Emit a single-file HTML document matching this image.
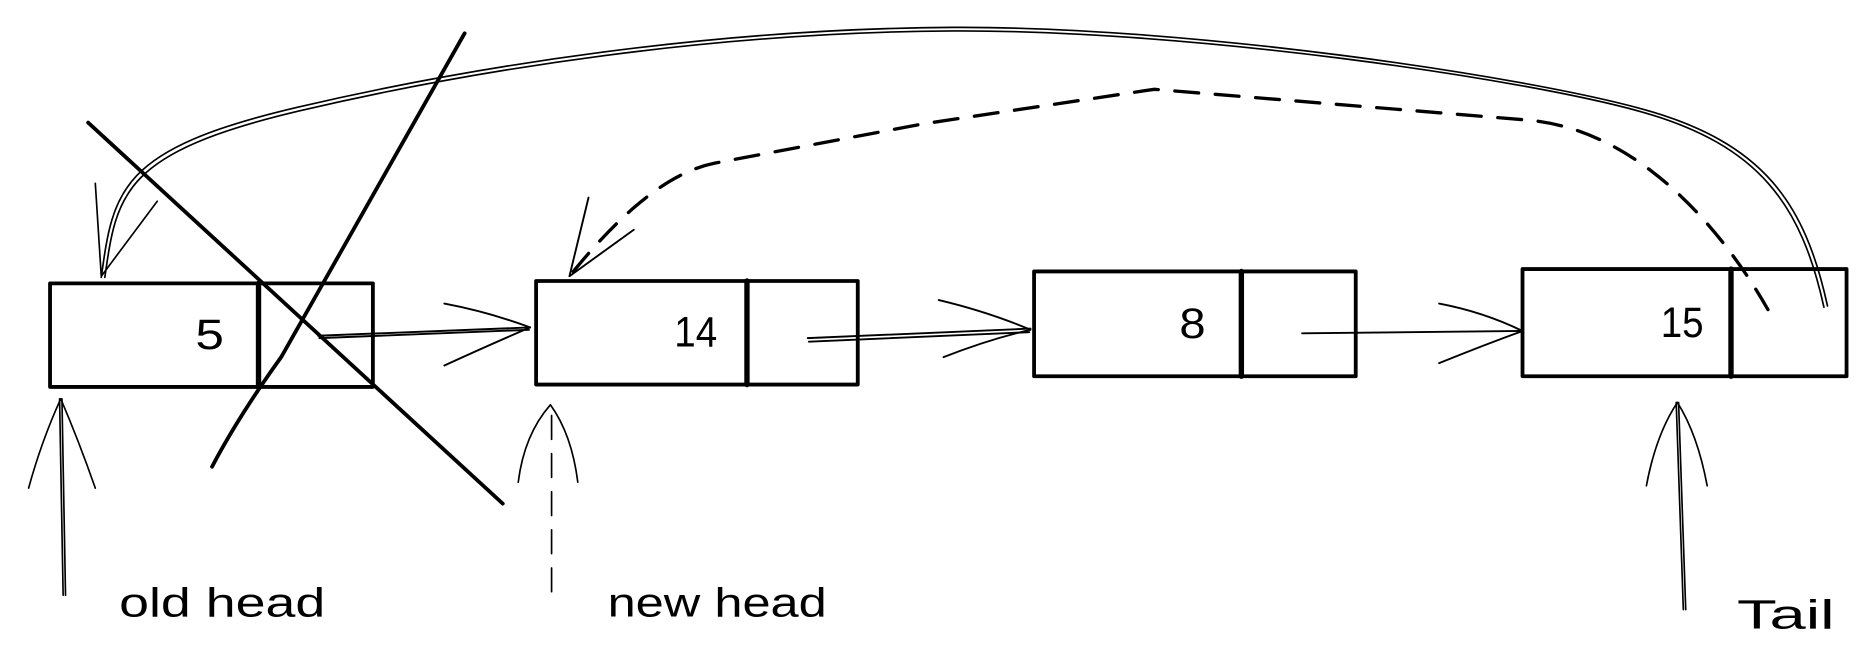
<!DOCTYPE html>
<html><head><meta charset="utf-8"><style>
html,body{margin:0;padding:0;background:#fff;}
svg{display:block;}
text{font-family:"Liberation Sans",sans-serif;fill:#000;}
</style></head><body>
<svg width="1868" height="656" viewBox="0 0 1568 551" preserveAspectRatio="none" xmlns="http://www.w3.org/2000/svg">
<g fill="none" stroke="#000" stroke-linecap="round" stroke-linejoin="round">
<g stroke-width="3.2">
<rect x="42" y="238" width="271" height="87"/>
<line x1="217" y1="238" x2="217" y2="325" stroke-width="4.5"/>
<rect x="450" y="236" width="270" height="87"/>
<line x1="627" y1="236" x2="627" y2="323" stroke-width="4.5"/>
<rect x="868" y="228" width="270" height="88"/>
<line x1="1042" y1="228" x2="1042" y2="316" stroke-width="4.5"/>
<rect x="1278" y="226" width="272" height="90"/>
<line x1="1453" y1="226" x2="1453" y2="316" stroke-width="4.5"/>
</g>
<g stroke-width="1.6">
<path d="M267 282 L445 275 M268 284 L444 277"/>
<path d="M373 255 Q410 262 445 275 M373 307 Q410 290 445 275"/>
<path d="M678 284 L865 276 M679 287 L864 279"/>
<path d="M788 252 Q830 262 865 277 M792 300 Q830 285 865 277"/>
<path d="M1093 280 L1278 278"/>
<path d="M1208 255 Q1245 262 1278 278 M1208 305 Q1245 290 1278 278"/>
</g>
<g stroke-width="1.4">
<path d="M1534 257 C1515 170 1480 120 1380 92 S 1000 22 800 23 S 400 55 250 90 S 95 160 85 233"/>
<path d="M1531 258 C1512 172 1477 122 1378 94 S 1000 25 800 26 S 401 58 252 93 S 98 162 88 233"/>
<path d="M80 154 L85 232 L132 169"/>
</g>
<path d="M1484 260 C1450 200 1380 110 1284 101 L969 75 L775 104 L600 137 C560 145 520 180 478 232" stroke-width="2.8" stroke-dasharray="20 14"/>
<path d="M494 166 L478 232 L532 193" stroke-width="1.6"/>
<line x1="74" y1="103" x2="422" y2="423" stroke-width="3.2"/>
<path d="M390 28 L236 300 Q200 350 178 392" stroke-width="3.2"/>
<g stroke-width="1.4">
<path d="M53 500 L50 335 M55 500 L52 335"/>
<path d="M24 410 Q35 370 51 335 M80 410 Q66 370 51 335"/>
<path d="M463 497 L463 340" stroke-dasharray="20 12"/>
<path d="M435 405 Q440 365 462 340 M485 405 Q480 365 462 340"/>
<path d="M1413 512 L1407 338 M1415 512 L1409 338"/>
<path d="M1382 408 Q1390 365 1408 338 M1433 408 Q1425 365 1408 338"/>
</g>
</g>
<g font-size="36">
<text x="164" y="293" textLength="24" lengthAdjust="spacingAndGlyphs">5</text>
<text x="566" y="291" textLength="36" lengthAdjust="spacingAndGlyphs">14</text>
<text x="990" y="284" textLength="22" lengthAdjust="spacingAndGlyphs">8</text>
<text x="1394" y="283" textLength="36" lengthAdjust="spacingAndGlyphs">15</text>
</g>
<g font-size="34">
<text x="100" y="518" textLength="173" lengthAdjust="spacingAndGlyphs">old head</text>
<text x="510" y="518" textLength="184" lengthAdjust="spacingAndGlyphs">new head</text>
<text x="1458" y="528" textLength="82" lengthAdjust="spacingAndGlyphs">Tail</text>
</g>
</svg>
</body></html>
